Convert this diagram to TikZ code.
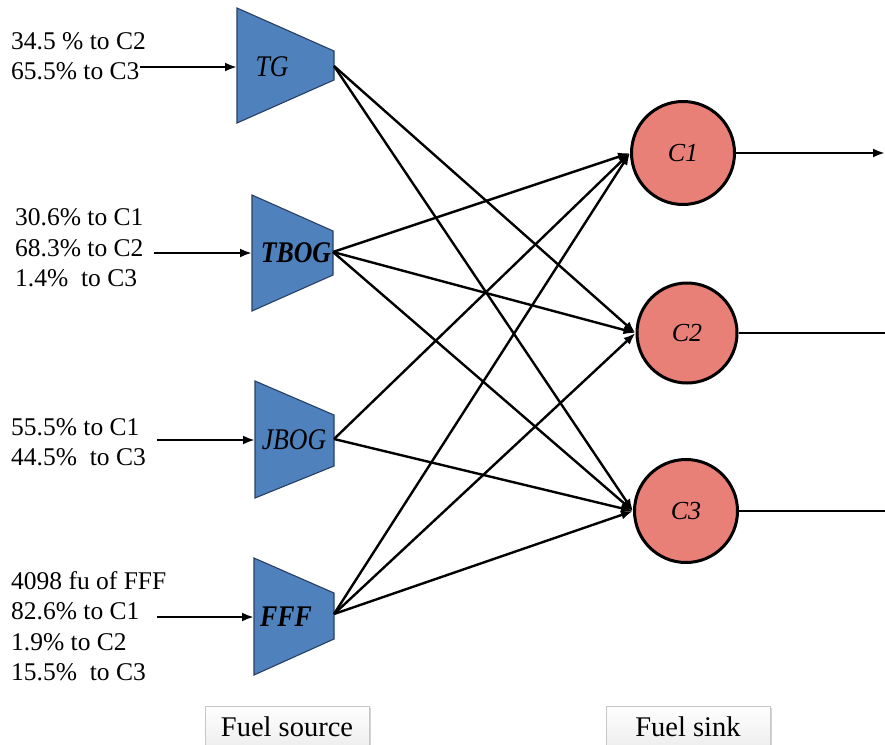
\documentclass[tikz,border=0pt]{standalone}
\usepackage{fontspec}
\setmainfont{Liberation Serif}
\newfontfamily\shapefont[FakeStretch=0.86]{Liberation Serif}
\usetikzlibrary{arrows.meta,shadows}

\definecolor{srcblue}{RGB}{79,129,189}
\definecolor{srcedge}{RGB}{40,62,100}
\definecolor{sinkred}{RGB}{232,128,120}

\begin{document}
\begin{tikzpicture}[x=1pt,y=-1pt,
  source/.style={fill=srcblue,draw=srcedge,line width=1.1pt},
  srclabel/.style={inner sep=0pt,font=\shapefont\fontsize{30}{30}\selectfont\itshape},
  sink/.style={circle,fill=sinkred,draw=black,line width=3pt,inner sep=0pt,
    minimum size=103pt,font=\fontsize{26}{30}\selectfont\itshape},
  flow/.style={-{Latex[length=12pt,width=9pt]},line width=2.4pt},
  note/.style={align=left,anchor=west,inner sep=0pt,font=\fontsize{25.5}{30.5}\selectfont},
  tag/.style={draw=gray!45,line width=0.8pt,top color=white,bottom color=gray!14,
    drop shadow={shadow xshift=2pt,shadow yshift=-2pt,opacity=0.35},
    minimum width=164pt,minimum height=42pt,inner sep=0pt,
    font=\fontsize{28.5}{30}\selectfont}]

\useasboundingbox (0,0) rectangle (885,744);

% fuel sources (trapezoids)
\filldraw[source] (237,8) -- (334,51) -- (334,80) -- (237,123) -- cycle;
\filldraw[source] (252,195) -- (333,231) -- (333,275) -- (252,311) -- cycle;
\filldraw[source] (255,381) -- (334,415) -- (334,466) -- (255,498) -- cycle;
\filldraw[source] (254,558) -- (334,593) -- (334,639) -- (254,675) -- cycle;

\node[srclabel] (tg)   at (272,67)  {TG};
\node[srclabel] (tbog) at (296,253) {\bfseries TBOG};
\node[srclabel] (jbog) at (294,440) {JBOG};
\node[srclabel] (fff)  at (286,617) {\bfseries FFF};

% inlet and outlet points of the sources
\coordinate (tg-in)   at (237,67);
\coordinate (tbog-in) at (252,253);
\coordinate (jbog-in) at (255,440);
\coordinate (fff-in)  at (254,617);
\coordinate (tg-out)   at (334,66);
\coordinate (tbog-out) at (333,252);
\coordinate (jbog-out) at (334,439);
\coordinate (fff-out)  at (334,614);

% fuel sinks
\node[sink] (c1) at (683,153) {C1};
\node[sink,minimum size=100pt] (c2) at (687,333) {C2};
\node[sink] (c3) at (686,511) {C3};

% split notes
\node[note] (tg-note)   at (11,56)  {34.5 \% to C2\\65.5\% to C3};
\node[note] (tbog-note) at (15,248) {30.6\% to C1\\68.3\% to C2\\1.4\%\ \ to C3};
\node[note] (jbog-note) at (11,442) {55.5\% to C1\\44.5\%\ \ to C3};
\node[note] (fff-note)  at (11,626) {4098 fu of FFF\\82.6\% to C1\\1.9\% to C2\\15.5\%\ \ to C3};

% feed arrows
\coordinate (tg-feed)   at (140,67);
\coordinate (tbog-feed) at (154,253);
\coordinate (jbog-feed) at (157,440);
\coordinate (fff-feed)  at (157,617);
\draw[flow] (tg-feed) -- (tg-in);
\draw[flow] (tbog-feed) -- (tbog-in);
\draw[flow] (jbog-feed) -- (jbog-in);
\draw[flow] (fff-feed) -- (fff-in);

% source-to-sink allocations
\draw[flow] (tg-out) -- (c2.west);
\draw[flow] (tg-out) -- (c3.west);
\draw[flow] (tbog-out) -- (c1.west);
\draw[flow] (tbog-out) -- (c2.west);
\draw[flow] (tbog-out) -- (c3.west);
\draw[flow] (jbog-out) -- (c1.west);
\draw[flow] (jbog-out) -- (c3.west);
\draw[flow] (fff-out) -- (c1.west);
\draw[flow] (fff-out) -- (c2.west);
\draw[flow] (fff-out) -- (c3.west);

% sink outlets
\coordinate (c1-out) at (885,153);
\coordinate (c2-out) at (897,333);
\coordinate (c3-out) at (897,511);
\draw[flow] (c1.east) -- (c1-out);
\draw[flow] (c2.east) -- (c2-out);
\draw[flow] (c3.east) -- (c3-out);

% captions
\node[tag] (src-tag)  at (287,727) {Fuel source};
\node[tag] (sink-tag) at (688,727) {Fuel sink};
\end{tikzpicture}
\end{document}
